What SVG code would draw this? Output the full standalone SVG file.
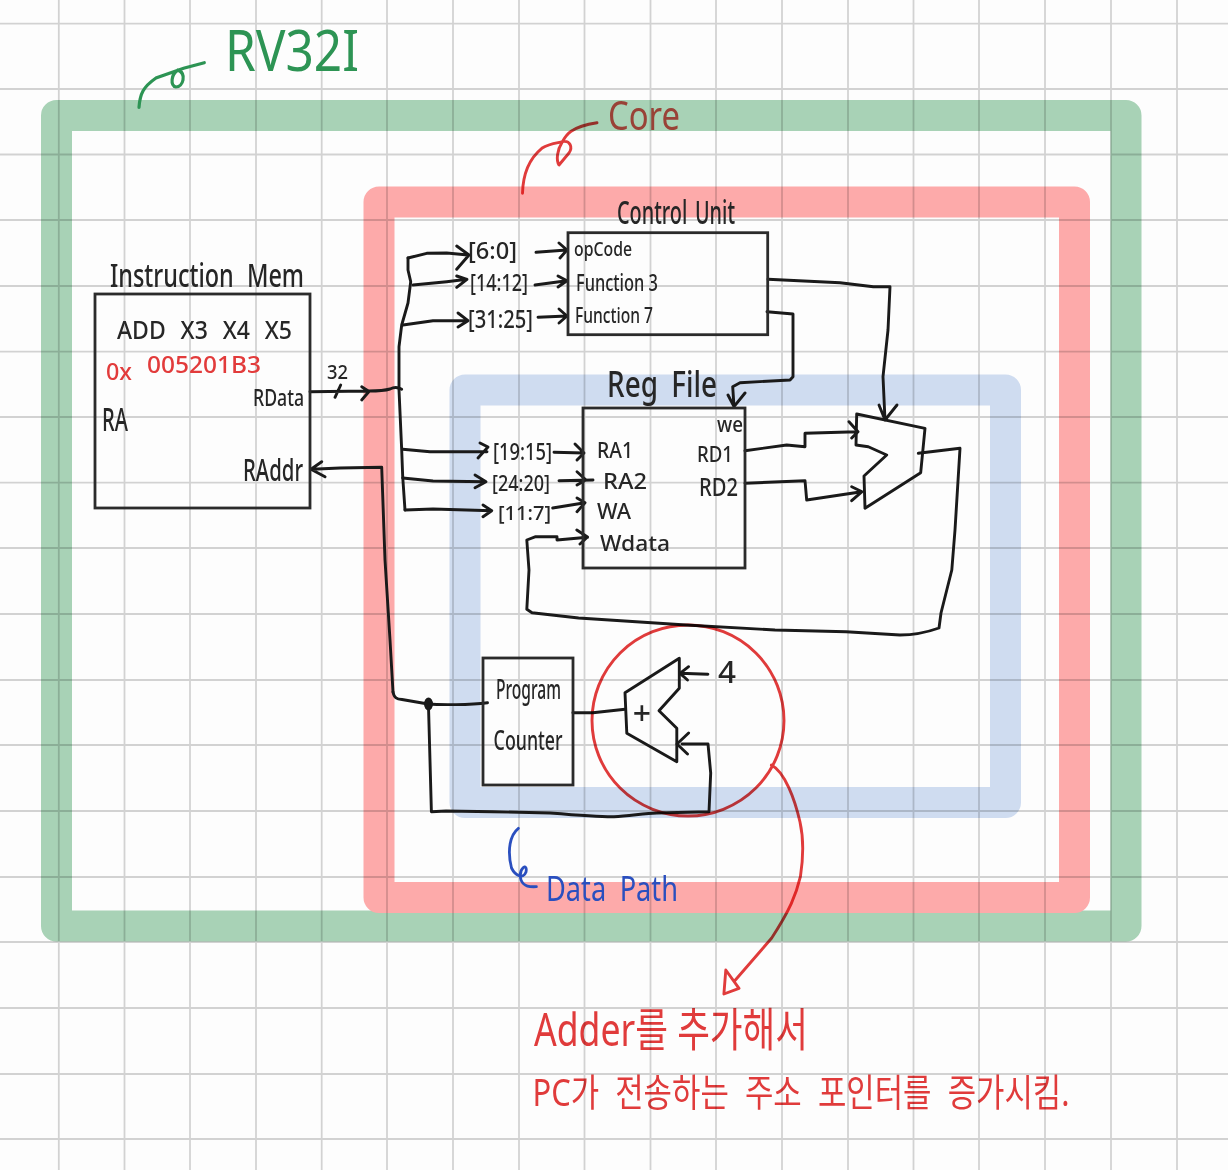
<svg xmlns="http://www.w3.org/2000/svg" width="1228" height="1170" viewBox="0 0 1228 1170">
<style>
text{font-family:"Noto Sans","Noto Sans CJK KR",sans-serif;fill:#262626;font-weight:500}
.frame{fill:none;stroke-width:31;stroke-linejoin:round}
.grid{stroke:#000;stroke-opacity:.17;stroke-width:1.8;fill:none}
.box{fill:none;stroke:#2b2b2b;stroke-width:2.8}
.w{fill:none;stroke:#1a1a1a;stroke-width:2.9;stroke-linejoin:round;stroke-linecap:round}
.r{fill:none;stroke:#e23b3b;stroke-width:2.9;stroke-linejoin:round;stroke-linecap:round}
.mul{mix-blend-mode:multiply}
</style>
<rect width="1228" height="1170" fill="#fdfdfd"/>
<g id="frame-rv32i"><rect class="frame" x="56.5" y="115.5" width="1069.5" height="810.5" stroke="#a8d2b6"/></g>
<g id="frame-core"><rect class="frame" x="379" y="202" width="695.5" height="695.5" stroke="#fdaaaa"/></g>
<g id="frame-datapath"><rect class="frame" x="465" y="390" width="540.5" height="412.5" stroke="#cfdcf0"/></g>
<path class="grid" d="M58.8 0V1170M124.5 0V1170M190 0V1170M256 0V1170M321.7 0V1170M387 0V1170M453 0V1170M519 0V1170M584.5 0V1170M650.5 0V1170M716 0V1170M782 0V1170M848 0V1170M913.5 0V1170M979 0V1170M1045 0V1170M1111 0V1170M1177 0V1170M0 23.7H1228M0 89H1228M0 154.5H1228M0 220H1228M0 286H1228M0 351.6H1228M0 417H1228M0 482.7H1228M0 548H1228M0 614H1228M0 680H1228M0 745H1228M0 811H1228M0 877H1228M0 942H1228M0 1008H1228M0 1074H1228M0 1139H1228"/>

<g id="connectors">
<path class="w" d="M310 391.7L368 391M361.7 386.7L369 391.5L361.7 400M369 391C378 391 385 390.5 390 389C394 387 398 387 401.7 389.3M335 397.3L340.7 385"/>
<path class="w" d="M408 258L408 270L410.7 281.7L408 303L401.7 325L399 346.7L399 390L401.7 450L402.7 476.7L405 510"/>
<path class="w" d="M408 258L426.7 253.3L446.7 253L468 255M456.7 246L469 255L456.7 269.3"/>
<path class="w" d="M413 285L446.7 281.7L466.7 279.3M456.7 276L467 279.3L456.7 287.3"/>
<path class="w" d="M403 325L433 320.7L468 320.7M458 313L468 320.7L458 327"/>
<path class="w" d="M402.7 449.3L430 451.7L487 451.7M480 443L488 447L478 458"/>
<path class="w" d="M402.7 478L433 481L485 481.7M475 475L486 481.7L475 487.7"/>
<path class="w" d="M405 510L433 509L491.7 510.7M483 505L491.7 510.7L483 516.7"/>
<path class="w" d="M536 252.3L566.7 250M559 243L567 250L560 258"/>
<path class="w" d="M535 285L566.7 280.7M558 276L567 280.7L558 287"/>
<path class="w" d="M538 317.3L567 316M559 309L567 316L559 323"/>
<path class="w" d="M554 452.3L584 453M575 444L584 453L577 460"/>
<path class="w" d="M559 480.7L593 480M577 471.7L586 480L577 485"/>
<path class="w" d="M552.7 508L585 502.7M577 498L585 502.7L577 511.7"/>
<path class="w" d="M393 692L390 640L385 560L381.7 467.3L340 468L311.7 469.3M321.7 461.7L311 469.3L325 476.7"/>
<path class="w" d="M393 692C394 698 397 699 402 699.5L428 704C440 705 470 705 487.5 702.7"/>
<ellipse cx="428.5" cy="704" rx="4.5" ry="6.5" fill="#1a1a1a"/>
<path class="w" d="M428.6 710L431.4 811.7L446 811L493 811.7L550 813C575 815 600 817 614 816.7C630 816 645 813 657 813L709 811.7L710.7 773L708 744L682 744M688.6 733L677 744L687.5 754"/>
<path class="w" d="M768 279.3L840 282.7L873.3 286.7L890 286.7L888 330L883 376.7L885 420M879 405L885 420L897 405"/>
<path class="w" d="M767 311.7L793 314L793 376.7L790 380L740 382.7L732.7 386.7L734 406.7M728 395L734 406.7L745 393"/>
<path class="w" d="M745 450.7L786.7 445L805 446.7L805 433.3L856.7 431.7M849 421.7L858 431.7L851.7 438"/>
<path class="w" d="M745 483.3L805 480.7L806.7 500L861.7 491.7M851.7 486.7L862 491.7L851.7 500.7"/>
<path class="w" d="M918.3 453.3L960 448.3L955 530L951.8 570L941 613L939 628C925 633 912 635 900 635L846 631.7L775 630L686 625L578.6 618L532 612.7L526.8 609.3L529 570L526.8 540L535.7 536.7L557 536.7L557 540L587.5 537.3M576.8 530L587.5 537L580 544"/>
<path class="w" d="M572.9 712.7L592.9 712.7L625 709.3"/>
<path class="w" d="M707.9 674.3L680 673.3M688.6 666.7L680 673.3L687.5 680"/>
</g>

<g id="instruction-mem">
<rect class="box" x="95" y="294" width="215" height="214"/>
<text x="110" y="287" font-size="33" textLength="194" lengthAdjust="spacingAndGlyphs" word-spacing="10">Instruction Mem</text>
<text x="117" y="339" font-size="26" textLength="175" lengthAdjust="spacingAndGlyphs" word-spacing="10">ADD X3 X4 X5</text>
<text font-size="24" style="fill:#e23b3b"><tspan x="106" y="380" textLength="26" lengthAdjust="spacingAndGlyphs">0x</tspan><tspan x="147" y="373" textLength="114" lengthAdjust="spacingAndGlyphs">005201B3</tspan></text>
<text x="253" y="406" font-size="23" textLength="51" lengthAdjust="spacingAndGlyphs">RData</text>
<text x="102" y="431" font-size="32" textLength="26" lengthAdjust="spacingAndGlyphs">RA</text>
<text x="243" y="481" font-size="30" textLength="60" lengthAdjust="spacingAndGlyphs">RAddr</text>
<text x="327" y="379" font-size="19" textLength="21" lengthAdjust="spacingAndGlyphs">32</text>
</g>

<g id="bit-fields">
<text x="468" y="259" font-size="24" textLength="49" lengthAdjust="spacingAndGlyphs">[6:0]</text>
<text x="470" y="291" font-size="23" textLength="58" lengthAdjust="spacingAndGlyphs">[14:12]</text>
<text x="468" y="328" font-size="26" textLength="65" lengthAdjust="spacingAndGlyphs">[31:25]</text>
<text x="493" y="460" font-size="23" textLength="59" lengthAdjust="spacingAndGlyphs">[19:15]</text>
<text x="492" y="491" font-size="22" textLength="58" lengthAdjust="spacingAndGlyphs">[24:20]</text>
<text x="498" y="520" font-size="20" textLength="53" lengthAdjust="spacingAndGlyphs">[11:7]</text>
</g>

<g id="control-unit">
<rect class="box" x="568" y="232.7" width="199.7" height="102"/>
<text x="617" y="224" font-size="32" textLength="118" lengthAdjust="spacingAndGlyphs" word-spacing="4">Control Unit</text>
<text x="574" y="256" font-size="20" textLength="58" lengthAdjust="spacingAndGlyphs">opCode</text>
<text x="576" y="291" font-size="24" textLength="82" lengthAdjust="spacingAndGlyphs">Function 3</text>
<text x="575" y="323" font-size="22" textLength="78" lengthAdjust="spacingAndGlyphs">Function 7</text>
</g>

<g id="reg-file">
<rect class="box" x="583" y="408" width="162" height="160"/>
<text x="607" y="397" font-size="37" textLength="110" lengthAdjust="spacingAndGlyphs" word-spacing="8">Reg File</text>
<text x="717" y="432" font-size="22" textLength="26" lengthAdjust="spacingAndGlyphs">we</text>
<text x="597" y="458" font-size="22" textLength="36" lengthAdjust="spacingAndGlyphs">RA1</text>
<text x="603" y="489" font-size="22" textLength="44" lengthAdjust="spacingAndGlyphs">RA2</text>
<text x="597" y="519" font-size="21" textLength="34" lengthAdjust="spacingAndGlyphs">WA</text>
<text x="600" y="551" font-size="22" textLength="70" lengthAdjust="spacingAndGlyphs">Wdata</text>
<text x="697" y="462" font-size="22" textLength="36" lengthAdjust="spacingAndGlyphs">RD1</text>
<text x="699" y="496" font-size="25" textLength="39" lengthAdjust="spacingAndGlyphs">RD2</text>
</g>

<g id="mux">
<path class="w" d="M856.7 414L925 428.3L920.7 472.7L865 508.3L864 476L886.7 455L868.3 446.7L856 445Z"/>
</g>

<g id="program-counter">
<rect class="box" x="483" y="658" width="90" height="127"/>
<text x="496" y="699" font-size="27" textLength="65" lengthAdjust="spacingAndGlyphs">Program</text>
<text x="493.6" y="750" font-size="27" textLength="69" lengthAdjust="spacingAndGlyphs">Counter</text>
</g>

<g id="adder">
<path class="w" d="M625 692.7L679.3 658.3L679.3 688.3L659 710.7L676.8 728.3L676.8 761.7L626.8 733.3Z"/>
<text x="642" y="725" font-size="32" text-anchor="middle">+</text>
<text x="718" y="683" font-size="31" textLength="18" lengthAdjust="spacingAndGlyphs">4</text>
</g>

<g id="label-rv32i">
<path d="M139 107.3C140 94 143 87 156 78L183.6 68.3L204.3 62.7M178 70C171 74 170 86 176 87C183 87 187 74 178 70Z" fill="none" stroke="#2d9454" stroke-width="3.2" stroke-linecap="round"/>
<text x="225" y="71" font-size="56" textLength="134" lengthAdjust="spacingAndGlyphs" style="fill:#2d9454;font-weight:400">RV32I</text>
</g>

<g id="annotations-red" class="mul">
<path class="r" d="M522.5 193.3C523 172 530 158 541.8 148.3C550 143 558 143 562.4 141.7C566 135 570 127 597 122.7M562.4 141.7C570 140 573 147 569 153L559 165C556 160 557 150 562.4 141.7Z"/>
<text x="608" y="130" font-size="40" textLength="72" lengthAdjust="spacingAndGlyphs" style="fill:#e8504c;font-weight:400">Core</text>
<ellipse class="r" cx="688" cy="720.5" rx="96" ry="95.5"/>
<path class="r" d="M771.4 765C785 772 795 800 800 822C804 840 803 860 800.4 876.7C796 895 790 910 771.7 938L735.4 980M725.8 970L739 988.3L723.9 994Z"/>
<text x="534" y="1046" font-size="46" textLength="274" lengthAdjust="spacingAndGlyphs" style="fill:#e23b3b;font-weight:400">Adder를 추가해서</text>
<text x="532.5" y="1106" font-size="38" textLength="537" lengthAdjust="spacingAndGlyphs" word-spacing="10" style="fill:#e23b3b;font-weight:400">PC가 전송하는 주소 포인터를 증가시킴.</text>
</g>

<g id="label-datapath">
<path d="M518.4 828.3C510 835 507 850 511.5 868C515 875 523 880 526 872C528 862 518 868 521 880C524 887 530 887 536.4 886.7" fill="none" stroke="#2a4fbf" stroke-width="2.8" stroke-linecap="round"/>
<text x="546" y="901" font-size="34" textLength="132" lengthAdjust="spacingAndGlyphs" word-spacing="8" style="fill:#2a4fbf;font-weight:400">Data Path</text>
</g>
</svg>
